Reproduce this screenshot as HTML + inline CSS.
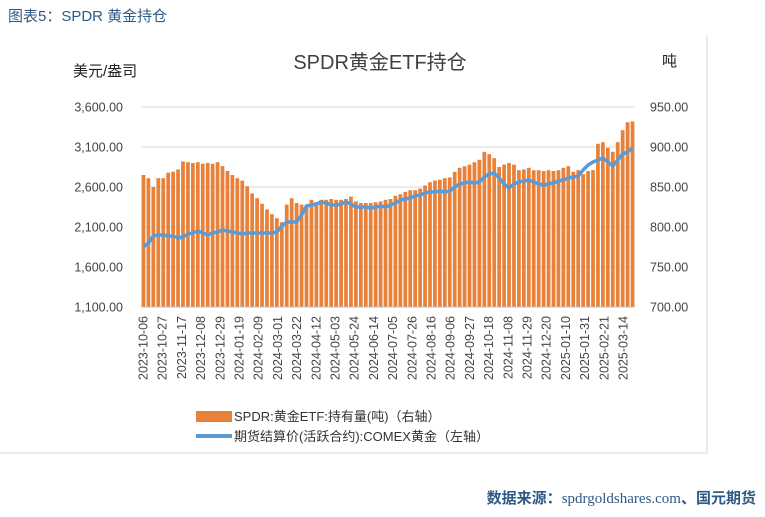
<!DOCTYPE html>
<html><head><meta charset="utf-8"><style>
body{margin:0;background:#fff;}
#wrap{position:relative;width:765px;height:517px;overflow:hidden;font-family:"Liberation Sans","Noto Sans CJK SC",sans-serif;}
</style></head><body>
<div id="wrap">
<svg id="c" width="765" height="517"></svg>
</div>
<script>
const holdings=[865,861,850,861,861,868,869,872,882,881,880,881,879,880,879,881,876,870,865,861,858,851,842,836,829,822,816,811,806,828,836,830,828,828,834,831,834,834,835,834,834,835,838,832,830,830,830,831,832,834,835,839,841,844,846,846,848,852,856,858,859,861,862,869,874,876,878,881,884,894,891,886,875,878,880,878,871,872,874,871,871,870,871,870,871,874,876,869,871,866,870,871,904,906,899,894,906,921,931,932];
const prices=[1850,1900,1988,2000,2000,1988,1988,1963,1975,2013,2025,2050,2025,2000,2025,2038,2063,2050,2038,2025,2013,2025,2025,2025,2025,2025,2025,2038,2113,2163,2163,2163,2250,2363,2375,2388,2413,2400,2375,2375,2388,2413,2388,2350,2350,2350,2338,2350,2363,2350,2375,2400,2438,2450,2463,2488,2500,2525,2538,2538,2550,2538,2550,2600,2638,2650,2663,2650,2663,2725,2763,2775,2713,2638,2588,2638,2663,2675,2688,2663,2638,2625,2638,2650,2675,2688,2713,2725,2738,2813,2875,2913,2938,2963,2913,2863,2938,3013,3038,3088];
const dateLabels=["2023-10-06","2023-10-27","2023-11-17","2023-12-08","2023-12-29","2024-01-19","2024-02-09","2024-03-01","2024-03-22","2024-04-12","2024-05-03","2024-05-24","2024-06-14","2024-07-05","2024-07-26","2024-08-16","2024-09-06","2024-09-27","2024-10-18","2024-11-08","2024-11-29","2024-12-20","2025-01-10","2025-01-31","2025-02-21","2025-03-14"];
const leftTicks=[1100,1600,2100,2600,3100,3600];
const rightTicks=[700,750,800,850,900,950];

const NS="http://www.w3.org/2000/svg";
const svg=document.getElementById('c');
function mk(t,a,p){const e=document.createElementNS(NS,t);for(const k in a)e.setAttribute(k,a[k]);(p||svg).appendChild(e);return e;}
const X0=141,X1=635,Y0=307,Y1=107;
const yL=v=>Y0-(v-1100)/2500*(Y0-Y1);
const yR=v=>Y0-(v-700)/250*(Y0-Y1);
const n=holdings.length;
const step=(X1-X0)/n;
const xC=i=>X0+step*(i+0.5);

// border
let b=mk('path',{d:'M707 35 V453 H0',fill:'none',stroke:'#d9d9d9','stroke-width':1});


// header
let t=mk('text',{x:8,y:21,fill:'#2e5a87','font-size':15});t.textContent='图表5：SPDR 黄金持仓';

t=mk('text',{x:380,y:69,'text-anchor':'middle',fill:'#404040','font-size':20});t.textContent='SPDR黄金ETF持仓';

t=mk('text',{x:73,y:76,fill:'#222','font-size':15});t.textContent='美元/盎司';

t=mk('text',{x:662,y:66,fill:'#222','font-size':15});t.textContent='吨';


// grid and ticks
leftTicks.forEach((v,i)=>{
  const y=yL(v);
  if(i>0){const g=mk('line',{x1:X0,x2:X1,y1:y,y2:y,stroke:'#d9d9d9','stroke-width':1});
  }
  const l=mk('text',{x:123,y:y+4.5,'text-anchor':'end',fill:'#444','font-size':12.5});
  l.textContent=v.toLocaleString('en-US',{minimumFractionDigits:2});
  
});
rightTicks.forEach(v=>{
  const y=yR(v);
  const l=mk('text',{x:650,y:y+4.5,fill:'#444','font-size':12.5});
  l.textContent=v.toFixed(2);
  
});

// bars
holdings.forEach((v,i)=>{
  const y=yR(v);
  const r=mk('rect',{x:xC(i)-step*0.38,y:y,width:step*0.76,height:Y0-y,fill:'#e8823a'});
  
});
// axis line
let ax=mk('line',{x1:X0,x2:X1,y1:Y0,y2:Y0,stroke:'#bfbfbf'});


// price line
const pts=prices.map((v,i)=>xC(i).toFixed(1)+','+yL(v).toFixed(1)).join(' ');
let pl=mk('polyline',{points:pts,fill:'none',stroke:'#5b9bd5','stroke-width':3.5,'stroke-linejoin':'round'});


// date labels
const ls=(623-143)/(dateLabels.length-1);
dateLabels.forEach((d,i)=>{
  const x=143+ls*i;
  const l=mk('text',{x:0,y:0,'text-anchor':'end',fill:'#444','font-size':12.5,transform:`translate(${x+4.5},316) rotate(-90)`});
  l.textContent=d;
  
});

// legend
let lr=mk('rect',{x:196,y:411,width:36,height:11,fill:'#e8823a'});

t=mk('text',{x:234,y:421,fill:'#333','font-size':13});t.textContent='SPDR:黄金ETF:持有量(吨)（右轴）';

let ll=mk('line',{x1:196,x2:232,y1:436,y2:436,stroke:'#5b9bd5','stroke-width':4});

t=mk('text',{x:234,y:441,fill:'#333','font-size':13});t.textContent='期货结算价(活跃合约):COMEX黄金（左轴）';


// footer
t=mk('text',{x:756,y:503,'text-anchor':'end',fill:'#2e5a87','font-size':15,'font-weight':'bold'});
t.innerHTML='数据来源：<tspan font-family="Liberation Serif,serif" font-weight="normal">spdrgoldshares.com</tspan>、国元期货';

</script>
</body></html>
